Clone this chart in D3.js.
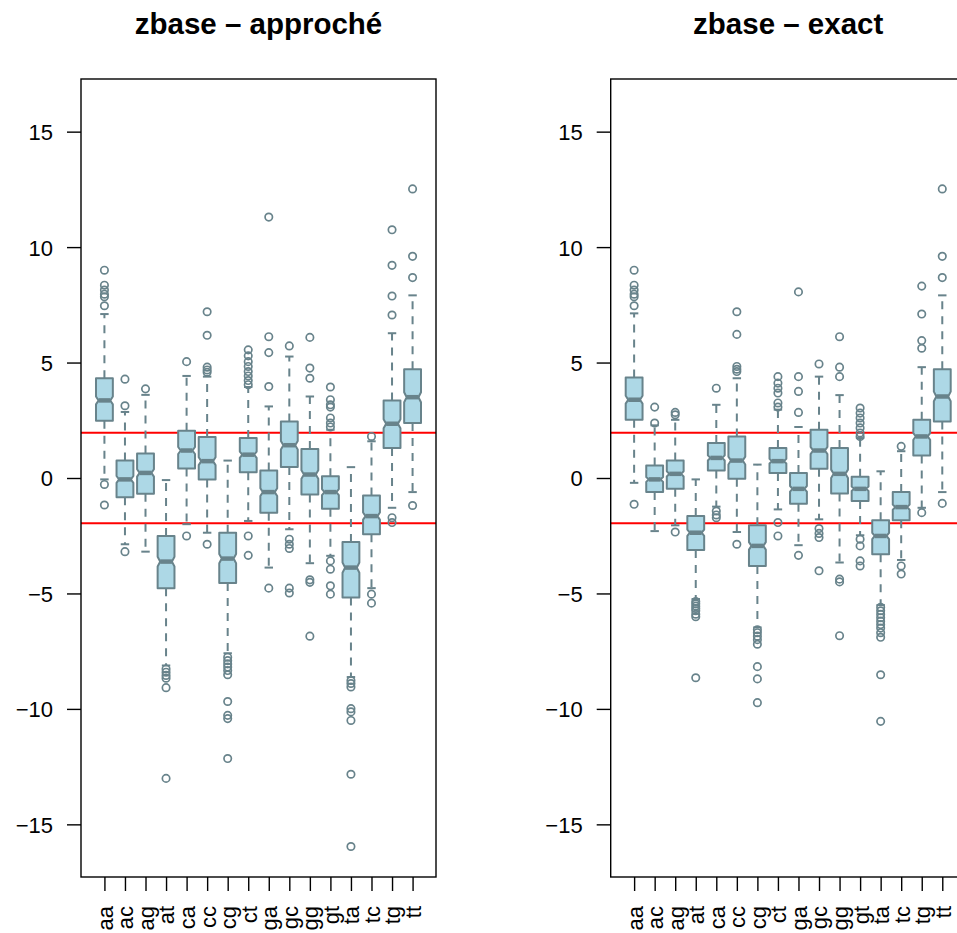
<!DOCTYPE html>
<html>
<head>
<meta charset="utf-8">
<script src="https://cdn.jsdelivr.net/npm/d3@7/dist/d3.min.js"></script>
<style>
  html, body { margin: 0; padding: 0; background: #ffffff; }
  svg { display: block; }
  text { font-family: "Liberation Sans", Arial, Helvetica, sans-serif; fill: #000; }
</style>
</head>
<body>
<svg id="chart" width="957" height="933"></svg>
<script>
// Dinucleotide categories
const bases = ["aa","ac","ag","at","ca","cc","cg","ct","ga","gc","gg","gt","ta","tc","tg","tt"];

// zbase – approché : five-number summaries and outliers per category
const approxLow  = [-0.06, -2.87, -3.19, -8.12, -2.00, -2.37, -7.59, -1.86, -3.88, -2.22, -3.69, -3.37, -8.62, -4.77, -1.29, -0.61];
const approxQ1   = [ 2.48, -0.83, -0.68, -4.78,  0.41, -0.06, -4.55,  0.25, -1.50,  0.48, -0.71, -1.33, -5.17, -2.44,  1.30,  2.38];
const approxMed  = [ 3.36, -0.06,  0.22, -3.62,  1.19,  0.73, -3.49,  1.01, -0.61,  1.42,  0.15, -0.61, -3.88, -1.65,  2.35,  3.50];
const approxQ3   = [ 4.32,  0.755, 1.06, -2.51,  2.05,  1.78, -2.37,  1.73,  0.32,  2.45,  1.26,  0.08, -2.77, -0.76,  3.36,  4.71];
const approxHigh = [ 7.10,  2.86,  3.60, -0.09,  4.42,  4.39,  0.755, 3.94,  3.10,  5.26,  3.53,  2.09,  0.47,  1.59,  6.27,  7.91];
const approxOut  = [
  [9.0, 8.35, 8.14, 7.96, 7.85, 7.46, -0.28, -1.17],
  [4.28, 3.13, -3.19],
  [3.86],
  [-8.27, -8.41, -8.55, -8.67, -9.08, -13.01],
  [5.04, -2.51],
  [7.2, 6.18, 4.8, 4.68, 4.58, -2.87],
  [-7.76, -7.91, -8.05, -8.19, -8.34, -8.52, -9.68, -10.28, -10.42, -12.15],
  [5.55, 5.29, 5.04, 4.83, 4.61, 4.42, 4.22, 4.04, -2.51, -3.35],
  [11.3, 6.12, 5.43, 3.96, -4.77],
  [5.72, -2.65, -2.87, -3.05, -4.77, -4.98],
  [6.09, 4.76, 4.32, -4.41, -4.52, -6.85],
  [3.94, 3.39, 3.17, 3.07, 2.6, 2.38, 2.21, -3.59, -3.95, -4.67, -5.03],
  [-8.77, -8.9, -9.05, -9.99, -10.13, -10.5, -12.83, -15.96],
  [1.8, -5.03, -5.42],
  [10.75, 9.21, 7.88, 7.06, -1.72, -1.93],
  [12.52, 9.6, 8.68, -1.19]
];

// zbase – exact
const exactLow  = [-0.21, -2.30, -2.05, -5.24, -1.24, -2.34, -6.47, -1.36, -2.91, -1.79, -3.66, -2.48, -5.50, -3.55, -1.29, -0.61];
const exactQ1   = [ 2.52, -0.61, -0.47, -3.12,  0.32, -0.03, -3.81,  0.22, -1.11,  0.40, -0.67, -1.00, -3.30, -1.83,  0.97,  2.45];
const exactMed  = [ 3.39, -0.06,  0.18, -2.37,  0.87,  0.755,-2.94,  0.73, -0.47,  1.19,  0.18, -0.47, -2.51, -1.26,  1.80,  3.53];
const exactQ3   = [ 4.35,  0.54,  0.755,-1.65,  1.52,  1.80, -2.05,  1.30,  0.22,  2.09,  1.30,  0.05, -1.83, -0.61,  2.52,  4.71];
const exactHigh = [ 7.13,  2.28,  2.52, -0.06,  3.17,  4.32,  0.58,  2.96,  2.21,  4.39,  3.59,  1.73,  0.29,  1.16,  4.80,  7.91];
const exactOut  = [
  [9.0, 8.35, 8.14, 7.96, 7.85, 7.46, -1.14],
  [3.07, 2.38],
  [2.84, 2.74, -2.34],
  [-5.35, -5.45, -5.55, -5.65, -5.75, -5.9, -6.01, -8.65],
  [3.89, -1.43, -1.6, -1.72],
  [7.2, 6.22, 4.83, 4.71, 4.61, -2.87],
  [-6.57, -6.7, -6.85, -7.0, -7.2, -8.17, -8.7, -9.73],
  [4.39, 4.11, 3.89, 3.68, 3.25, 3.07, -1.93, -2.51],
  [8.06, 4.39, 3.75, 2.84, -3.35],
  [4.94, -2.19, -2.4, -2.58, -4.02],
  [6.12, 4.8, 4.39, -4.38, -4.5, -6.83],
  [3.03, 2.81, 2.6, 2.38, 2.17, 1.95, 1.8, -2.65, -2.94, -3.59, -3.81],
  [-5.6, -5.75, -5.9, -6.05, -6.2, -6.35, -6.5, -6.7, -6.9, -8.52, -10.54],
  [1.37, -3.81, -4.16],
  [8.31, 7.1, 5.95, 5.62, -1.5],
  [12.52, 9.6, 8.68, -1.1]
];

// Axis ticks and the ±1.96 reference band
const yTicks = [-15, -10, -5, 0, 5, 10, 15];
const refLines = [-1.96, 1.96];
const yLimits = [-16, 16];
const groupSize = 290;   // observations per category (sets notch height)

const panels = [
  { title: "zbase – approché", left: 81,    low: approxLow, q1: approxQ1, med: approxMed, q3: approxQ3, high: approxHigh, out: approxOut },
  { title: "zbase – exact",    left: 610.7, low: exactLow,  q1: exactQ1,  med: exactMed,  q3: exactQ3,  high: exactHigh,  out: exactOut }
];

const plotW = 355, plotTop = 79, plotBottom = 877;
const boxColor = "#68838B", boxFill = "#ADD8E6";
const svg = d3.select("#chart");

// R-style 4% axis expansion
const ySpan = yLimits[1] - yLimits[0];
const yDomain = [yLimits[0] - 0.04 * ySpan, yLimits[1] + 0.04 * ySpan];
const xDomain = [0.5 - 0.04 * 16, 16.5 + 0.04 * 16];

panels.forEach(p => {
  const g = svg.append("g");
  const x = d3.scaleLinear().domain(xDomain).range([p.left, p.left + plotW]);
  const y = d3.scaleLinear().domain(yDomain).range([plotBottom, plotTop]);
  const halfW = x(1.41) - x(1);        // box half width
  const capW = halfW * 0.5;
  const notchFrac = 0.7;

  // title
  g.append("text")
    .attr("x", p.left + plotW / 2).attr("y", 34)
    .attr("text-anchor", "middle")
    .style("font-size", "29.5px").style("font-weight", "bold")
    .text(p.title);

  // reference lines
  g.selectAll("line.ref").data(refLines).join("line")
    .attr("class", "ref")
    .attr("x1", p.left).attr("x2", p.left + plotW)
    .attr("y1", d => y(d)).attr("y2", d => y(d))
    .attr("stroke", "#FF0000").attr("stroke-width", 2);

  bases.forEach((b, i) => {
    const cx = x(i + 1);
    const lo = p.low[i], q1 = p.q1[i], md = p.med[i], q3 = p.q3[i], hi = p.high[i];
    const notch = 1.58 * (q3 - q1) / Math.sqrt(groupSize);
    const bg = g.append("g");

    // whiskers (dashed)
    bg.append("line").attr("x1", cx).attr("x2", cx).attr("y1", y(q3)).attr("y2", y(hi))
      .attr("stroke", boxColor).attr("stroke-width", 2).attr("stroke-dasharray", "8,7");
    bg.append("line").attr("x1", cx).attr("x2", cx).attr("y1", y(q1)).attr("y2", y(lo))
      .attr("stroke", boxColor).attr("stroke-width", 2).attr("stroke-dasharray", "8,7");
    // staples
    [lo, hi].forEach(v => {
      bg.append("line").attr("x1", cx - capW).attr("x2", cx + capW).attr("y1", y(v)).attr("y2", y(v))
        .attr("stroke", boxColor).attr("stroke-width", 2);
    });

    // notched box
    const pts = [
      [cx - halfW, y(q1)], [cx - halfW, y(md - notch)], [cx - halfW * notchFrac, y(md)],
      [cx - halfW, y(md + notch)], [cx - halfW, y(q3)], [cx + halfW, y(q3)],
      [cx + halfW, y(md + notch)], [cx + halfW * notchFrac, y(md)], [cx + halfW, y(md - notch)],
      [cx + halfW, y(q1)]
    ];
    bg.append("path").attr("d", d3.line()(pts) + "Z")
      .attr("fill", boxFill).attr("stroke", boxColor).attr("stroke-width", 2)
      .attr("stroke-linejoin", "round");
    // median
    bg.append("line").attr("x1", cx - halfW * notchFrac).attr("x2", cx + halfW * notchFrac)
      .attr("y1", y(md)).attr("y2", y(md))
      .attr("stroke", boxColor).attr("stroke-width", 4.5);

    // outliers
    bg.selectAll("circle").data(p.out[i]).join("circle")
      .attr("cx", cx).attr("cy", d => y(d)).attr("r", 3.7)
      .attr("fill", "none").attr("stroke", boxColor).attr("stroke-width", 1.7);
  });

  // frame
  g.append("rect").attr("x", p.left).attr("y", plotTop).attr("width", plotW).attr("height", plotBottom - plotTop)
    .attr("fill", "none").attr("stroke", "#000").attr("stroke-width", 1.4);

  // y axis
  const ya = g.append("g").attr("transform", `translate(${p.left},0)`)
    .call(d3.axisLeft(y).tickValues(yTicks).tickSize(14).tickPadding(14).tickFormat(d3.format("d")));
  ya.select(".domain").remove();
  ya.selectAll(".tick line").attr("stroke", "#000").attr("stroke-width", 1.4);
  ya.selectAll(".tick text").style("font-size", "22px").attr("font-family", null).attr("dy", "0.36em");

  // x axis with vertical labels
  const xa = g.append("g").attr("transform", `translate(0,${plotBottom})`)
    .call(d3.axisBottom(x).tickValues(d3.range(1, 17)).tickSize(14).tickFormat(d => bases[d - 1]));
  xa.select(".domain").remove();
  xa.selectAll(".tick line").attr("stroke", "#000").attr("stroke-width", 1.4);
  xa.selectAll(".tick text")
    .style("font-size", "22px").attr("font-family", null)
    .attr("text-anchor", "end")
    .attr("transform", "rotate(-90)")
    .attr("x", -29).attr("y", 0).attr("dy", "0.36em");
});
</script>
</body>
</html>
